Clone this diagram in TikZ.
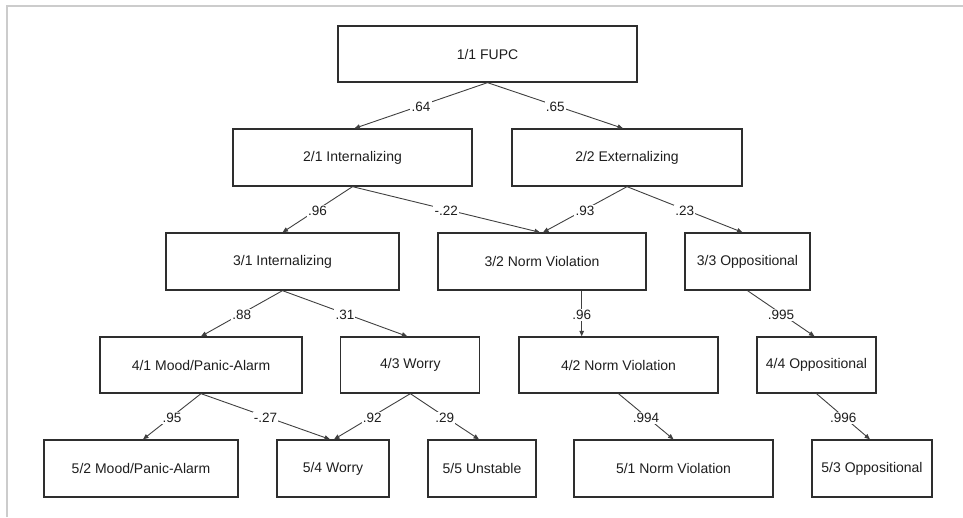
\documentclass[tikz,border=0pt]{standalone}
\usepackage{fontspec}
\setmainfont{Liberation Sans}
\usetikzlibrary{arrows.meta}
\definecolor{boxline}{HTML}{2E2E2E}
\definecolor{conline}{HTML}{404040}
\definecolor{frameline}{HTML}{CCCCCC}
\definecolor{txt}{HTML}{1E1E1E}
\tikzset{
  box/.style={draw=boxline, line width=1.3pt, rectangle, minimum height=57pt, inner sep=0pt,
    text=txt, font=\fontsize{14}{16}\selectfont},
  arr/.style={draw=conline, line width=0.9pt, -{Triangle[length=5.5pt,width=4.5pt]}},
  wt/.style={midway, fill=white, inner sep=1.2pt, text=txt, yshift=-1.5pt, font=\fontsize{13.5}{15}\selectfont},
}
\begin{document}
\begin{tikzpicture}[x=1pt,y=-1pt]
\useasboundingbox (0,0) rectangle (963,517);
\draw[frameline, line width=1.5pt] (7,517) -- (7,6) -- (963,6);

\node[box, minimum width=299pt, minimum height=56pt] (f11) at (487.5,54) {1/1 FUPC};
\node[box, minimum width=239pt] (i21) at (352.5,157.5) {2/1 Internalizing};
\node[box, minimum width=230pt] (e22) at (627,157.5) {2/2 Externalizing};
\node[box, minimum width=233pt] (i31) at (282.5,261.5) {3/1 Internalizing};
\node[box, minimum width=208pt] (n32) at (542,261.5) {3/2 Norm Violation};
\node[box, minimum width=125pt] (o33) at (747.5,261.5) {3/3 Oppositional};
\node[box, minimum width=202pt, minimum height=56pt] (m41) at (201,365) {4/1 Mood/Panic-Alarm};
\node[box, minimum width=139pt, minimum height=56pt] (w43) at (410.3,365) {4/3 Worry};
\node[box, minimum width=199pt, minimum height=56pt] (n42) at (618.5,365) {4/2 Norm Violation};
\node[box, minimum width=119pt, minimum height=56pt] (o44) at (816.5,365) {4/4 Oppositional};
\node[box, minimum width=194pt] (m52) at (141,468.5) {5/2 Mood/Panic-Alarm};
\node[box, minimum width=112pt] (w54) at (333,468.5) {5/4 Worry};
\node[box, minimum width=108pt] (u55) at (482,468.5) {5/5 Unstable};
\node[box, minimum width=199pt] (n51) at (673.5,468.5) {5/1 Norm Violation};
\node[box, minimum width=120pt] (o53) at (872,468.5) {5/3 Oppositional};

\draw[arr] (f11.south) -- node[wt] {.64} ([xshift=2pt]i21.north);
\draw[arr] (f11.south) -- node[wt] {.65} ([xshift=-4pt]e22.north);
\draw[arr] (i21.south) -- node[wt] {.96} (i31.north);
\draw[arr] (i21.south) -- node[wt] {-.22} ([xshift=-2pt]n32.north);
\draw[arr] (e22.south) -- node[wt] {.93} ([xshift=1pt]n32.north);
\draw[arr] (e22.south) -- node[wt] {.23} ([xshift=-5pt]o33.north);
\draw[arr] (i31.south) -- node[wt] {.88} (m41.north);
\draw[arr] (i31.south) -- node[wt] {.31} ([xshift=-3pt]w43.north);
\draw[arr] ([xshift=39.7pt]n32.south) -- node[wt] {.96} ([xshift=-36.8pt]n42.north);
\draw[arr] (o33.south) -- node[wt] {.995} ([xshift=-2pt]o44.north);
\draw[arr] (m41.south) -- node[wt] {.95} ([xshift=2pt]m52.north);
\draw[arr] (m41.south) -- node[wt] {-.27} ([xshift=-3pt]w54.north);
\draw[arr] (w43.south) -- node[wt] {.92} ([xshift=1pt]w54.north);
\draw[arr] (w43.south) -- node[wt] {.29} ([xshift=-3pt]u55.north);
\draw[arr] (n42.south) -- node[wt] {.994} (n51.north);
\draw[arr] (o44.south) -- node[wt] {.996} ([xshift=-2pt]o53.north);
\end{tikzpicture}
\end{document}
